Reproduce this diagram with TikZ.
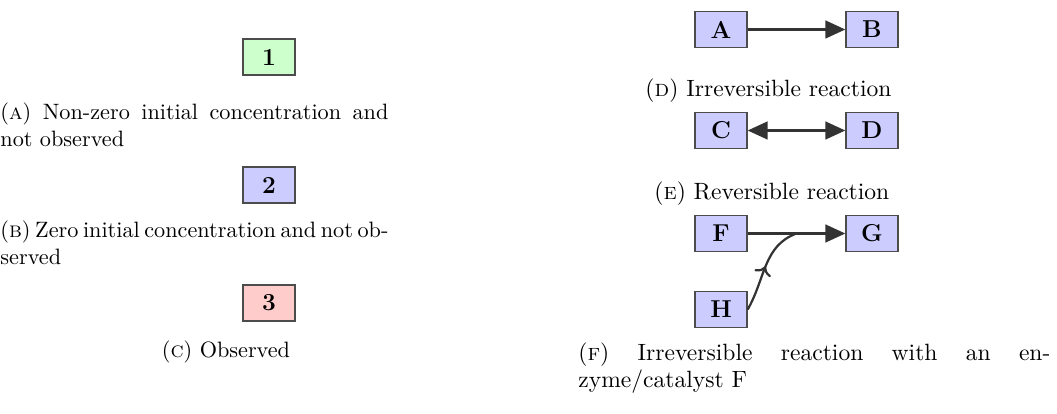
\documentclass[tikz,border=0pt]{standalone}
\usetikzlibrary{arrows.meta,decorations.markings,calc}
\begin{document}
\begin{tikzpicture}[x=0.45pt,y=-0.45pt,
  species/.style={draw=black!70, line width=0.6pt, minimum width=23.4pt, minimum height=16.2pt, inner sep=0pt, font=\fontsize{11}{13}\selectfont\bfseries},
  blue box/.style={species, fill=blue!20},
  green box/.style={species, fill=green!20},
  red box/.style={species, fill=red!20},
  lcap/.style={inner sep=0pt, font=\fontsize{10}{12}\selectfont},
  rcap/.style={inner sep=0pt, font=\fontsize{10.6}{12.7}\selectfont},
  rxn/.style={draw=black!80, line width=1pt, -{Triangle[length=9pt,width=8pt]}},
  revrxn/.style={draw=black!80, line width=1pt, {Triangle[length=9pt,width=8pt]}-{Triangle[length=9pt,width=8pt]}},
  catal/.style={draw=black!80, line width=1pt, postaction={decorate, decoration={markings, mark=at position 0.5 with {\arrow{>}}}}}
]
\path[use as bounding box] (0,0) rectangle (1057,414);

% left column
\node[green box] (n1) at (269,57) {1};
\node[lcap, anchor=base west] (capa1) at (0,120)
  {\makebox[174.6pt][s]{(\textsc{a}) Non-zero initial concentration and}};
\node[lcap, anchor=base west] (capa2) at (0,147) {not observed};
\node[blue box] (n2) at (269,185) {2};
\node[lcap, anchor=base west] (capb1) at (0,238)
  {\makebox[174.6pt][s]{\spaceskip=0.333em plus 0.5em minus 0.25em (\textsc{b}) Zero initial concentration and not ob-}};
\node[lcap, anchor=base west] (capb2) at (0,265) {served};
\node[red box] (n3) at (269,303) {3};
\node[lcap, anchor=base] (capc) at (226,358) {(\textsc{c}) Observed};

% right column
\node[blue box] (A) at (721,29.5) {A};
\node[blue box] (B) at (872,29.5) {B};
\draw[rxn] (A) -- (B);
\node[rcap, anchor=base west] (capd) at (645,97) {(\textsc{d}) Irreversible reaction};

\node[blue box] (C) at (721,130.5) {C};
\node[blue box] (D) at (872,130.5) {D};
\draw[revrxn] (C) -- (D);
\node[rcap, anchor=base west] (cape) at (654,200) {(\textsc{e}) Reversible reaction};

\node[blue box] (F) at (721,233.5) {F};
\node[blue box] (G) at (872,233.5) {G};
\node[blue box] (H) at (721,309.5) {H};
\draw[rxn] (F) -- (G);
\coordinate (mFG) at ($(F.east)!0.5!(G.west)$);
\draw[catal] (H.east) to[out=60,in=200] (mFG);
\node[rcap, anchor=base west] (capf1) at (578,361)
  {\makebox[212.4pt][s]{(\textsc{f}) Irreversible reaction with an en-}};
\node[rcap, anchor=base west] (capf2) at (578,388) {zyme/catalyst F};
\end{tikzpicture}
\end{document}
